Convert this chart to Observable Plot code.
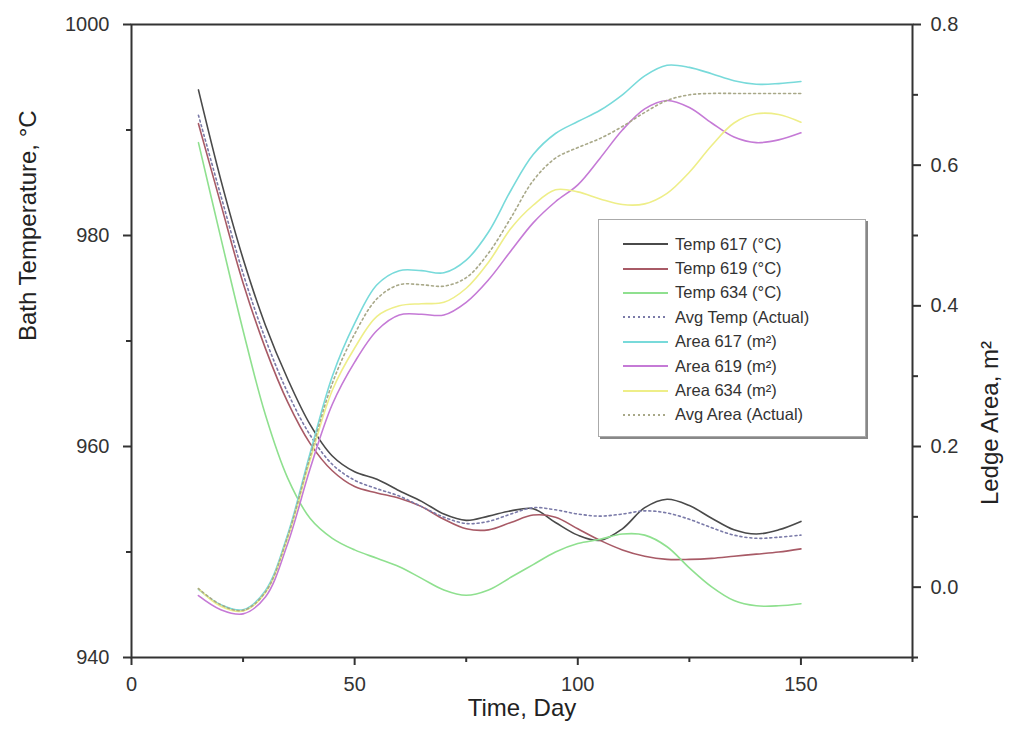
<!DOCTYPE html>
<html>
<head>
<meta charset="utf-8">
<script src="https://cdn.jsdelivr.net/npm/d3@7"></script>
<script src="https://cdn.jsdelivr.net/npm/@observablehq/plot@0.6"></script>
<style>
  body { margin: 0; background: #fff; font-family: "Liberation Sans", Arial, sans-serif; }
  #wrap { position: relative; width: 1011px; height: 751px; }
  #legend { position: absolute; left: 598px; top: 219px; width: 268px; height: 218px; border: 1px solid #aaa; box-shadow: 2px 2px 0 #888; background: #fff; box-sizing: border-box; padding-top: 12px; }
  .row { display: flex; align-items: center; height: 24.4px; font-size: 16.5px; color: #333; }
  .row svg { margin-left: 24px; margin-right: 7px; }
</style>
</head>
<body>
<div id="wrap"><div id="chart"></div><div id="legend"></div></div>
<script>
const days = [15,20,25,30,35,40,45,50,55,60,65,70,75,80,85,90,95,100,105,110,115,120,125,130,135,140,145,150];

const temp617 = [993.8,985.3,977.8,971.5,966.4,962.1,959.1,957.6,956.9,955.8,954.8,953.6,953.0,953.4,953.9,954.1,952.8,951.6,951.1,952.2,954.2,955.0,954.4,953.2,952.1,951.7,952.1,952.9];
const temp619 = [990.6,983.0,975.5,969.3,964.2,960.3,957.7,956.2,955.6,955.1,954.3,953.1,952.2,952.1,952.8,953.5,953.3,952.2,951.1,950.2,949.6,949.3,949.3,949.4,949.6,949.8,950.0,950.3];
const temp634 = [988.8,979.8,971.0,963.0,957.0,953.2,951.3,950.2,949.4,948.6,947.5,946.4,945.9,946.4,947.6,948.8,950.0,950.8,951.2,951.7,951.6,950.5,948.5,946.7,945.4,944.9,944.9,945.1];
const avgTemp = [991.4,983.8,976.4,970.2,965.1,961.1,958.3,956.8,956.0,955.3,954.3,953.3,952.7,952.9,953.6,954.2,954.0,953.6,953.4,953.6,953.9,953.7,953.1,952.3,951.6,951.3,951.4,951.6];

const area617 = [-0.003,-0.025,-0.032,-0.005,0.075,0.19,0.30,0.375,0.43,0.45,0.45,0.447,0.465,0.505,0.564,0.615,0.645,0.662,0.678,0.70,0.727,0.742,0.739,0.730,0.72,0.715,0.716,0.719];
const area619 = [-0.012,-0.032,-0.038,-0.014,0.062,0.168,0.26,0.32,0.365,0.387,0.388,0.387,0.405,0.437,0.478,0.518,0.548,0.572,0.61,0.65,0.68,0.692,0.682,0.66,0.64,0.632,0.636,0.646];
const area634 = [-0.002,-0.027,-0.034,-0.008,0.07,0.18,0.28,0.34,0.385,0.40,0.403,0.405,0.425,0.462,0.51,0.543,0.565,0.562,0.552,0.544,0.545,0.56,0.59,0.628,0.66,0.673,0.672,0.661];
const avgArea = [-0.002,-0.025,-0.033,-0.007,0.072,0.185,0.29,0.36,0.41,0.43,0.43,0.428,0.44,0.475,0.525,0.578,0.61,0.625,0.638,0.655,0.675,0.692,0.70,0.702,0.702,0.702,0.702,0.702];

const xMajor = [0,50,100,150];
const xMinor = [25,75,125,175];
const tMajor = [940,960,980,1000];
const tMinor = [950,970,990];
const aMajor = [0.0,0.2,0.4,0.6,0.8];
const aMinor = [-0.1,0.1,0.3,0.5,0.7];

const series = [
  {name:"Temp 617 (°C)", values:temp617, area:false, color:"#4a4a4a", dash:null},
  {name:"Temp 619 (°C)", values:temp619, area:false, color:"#a85a66", dash:null},
  {name:"Temp 634 (°C)", values:temp634, area:false, color:"#8fe08f", dash:null},
  {name:"Avg Temp (Actual)", values:avgTemp, area:false, color:"#7a7aa8", dash:"2,3"},
  {name:"Area 617 (m²)", values:area617, area:true, color:"#78dada", dash:null},
  {name:"Area 619 (m²)", values:area619, area:true, color:"#c57ad6", dash:null},
  {name:"Area 634 (m²)", values:area634, area:true, color:"#eeee88", dash:null},
  {name:"Avg Area (Actual)", values:avgArea, area:true, color:"#a8a888", dash:"2,3"}
];

// right axis (area) mapped onto the temperature scale: -0.1..0.8 -> 940..1000
const aToT = a => 940 + (a + 0.1) / 0.9 * 60;
const tToA = t => (t - 940) / 60 * 0.9 - 0.1;

const marks = [];
for (const s of series) {
  const rows = days.map((d, i) => ({day: d, v: s.area ? aToT(s.values[i]) : s.values[i]}));
  marks.push(Plot.line(rows, {x: "day", y: "v", stroke: s.color, strokeWidth: 1.6, curve: "catmull-rom", strokeDasharray: s.dash ?? undefined}));
}

const axColor = "#333";
const fs = 20;
const chart = Plot.plot({
  width: 1011, height: 751,
  marginLeft: 131, marginRight: 99, marginTop: 24, marginBottom: 94,
  style: {fontFamily: "'Liberation Sans', Arial, sans-serif", fontSize: "20px", color: axColor, background: "#fff"},
  x: {domain: [0, 175]},
  y: {domain: [940, 1000]},
  marks: [
    ...marks,
    Plot.axisX({ticks: xMajor, tickSize: 8, tickPadding: 11, tickFormat: d => String(d), label: null, stroke: axColor, strokeWidth: 2, fontSize: fs, fill: axColor}),
    Plot.axisX({ticks: xMinor, tickSize: 5, tickFormat: () => "", label: null, stroke: axColor, strokeWidth: 2}),
    Plot.axisY({anchor: "left", ticks: tMajor, tickSize: 8, tickPadding: 14, tickFormat: d => String(d), label: null, stroke: axColor, strokeWidth: 2, fontSize: fs, fill: axColor}),
    Plot.axisY({anchor: "left", ticks: tMinor, tickSize: 5, tickFormat: () => "", label: null, stroke: axColor, strokeWidth: 2}),
    Plot.axisY({anchor: "right", ticks: aMajor.map(aToT), tickSize: 8, tickPadding: 10, tickFormat: t => tToA(t).toFixed(1).replace("-0.0","0.0"), label: null, stroke: axColor, strokeWidth: 2, fontSize: fs, fill: axColor}),
    Plot.axisY({anchor: "right", ticks: aMinor.map(aToT), tickSize: 5, tickFormat: () => "", label: null, stroke: axColor, strokeWidth: 2}),
    Plot.frame({stroke: axColor, strokeWidth: 2}),
    Plot.text(["Time, Day"], {text: d => d, frameAnchor: "bottom", dy: 58, fontSize: 24, fill: "#222"}),
    Plot.text(["Bath Temperature, °C"], {text: d => d, frameAnchor: "left", dx: -103, rotate: -90, fontSize: 24, fill: "#222"}),
    Plot.text(["Ledge Area, m²"], {text: d => d, frameAnchor: "right", dx: 78, rotate: -90, fontSize: 24, fill: "#222"})
  ]
});
document.getElementById("chart").appendChild(chart);

const legend = document.getElementById("legend");
for (const s of series) {
  const row = document.createElement("div");
  row.className = "row";
  row.innerHTML = `<svg width="45" height="10"><line x1="0" y1="5" x2="45" y2="5" stroke="${s.color}" stroke-width="1.8" ${s.dash ? `stroke-dasharray="${s.dash}"` : ""}/></svg><span>${s.name}</span>`;
  legend.appendChild(row);
}
</script>
</body>
</html>
